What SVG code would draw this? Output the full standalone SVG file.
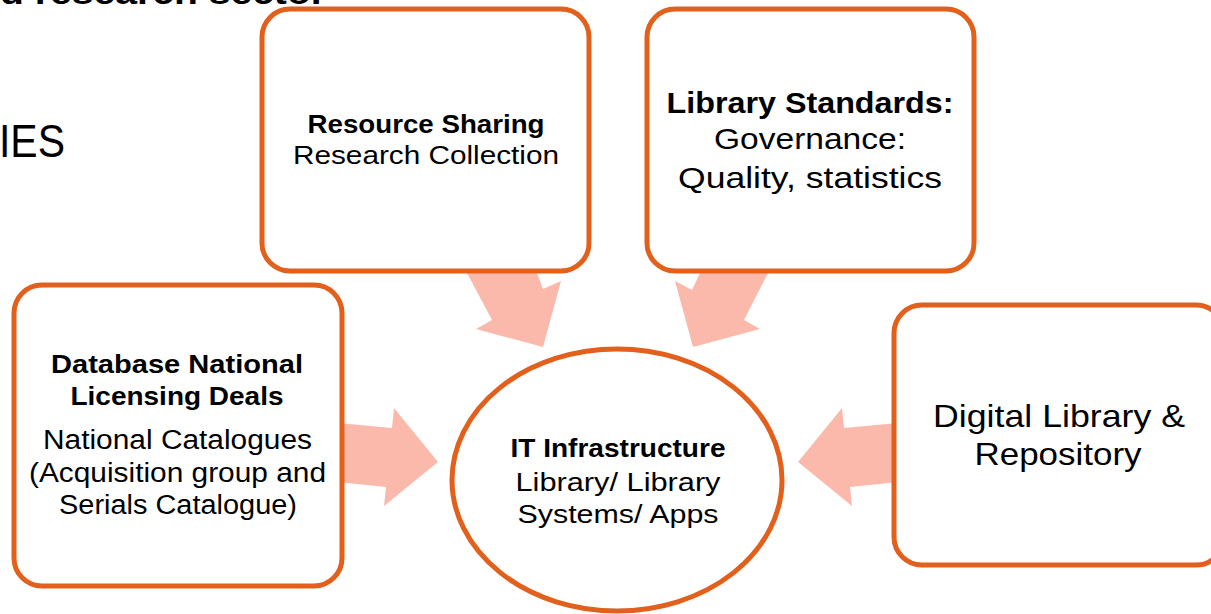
<svg xmlns="http://www.w3.org/2000/svg" width="1211" height="614" viewBox="0 0 1211 614">
<style>
.box{fill:#ffffff;stroke:#E2601B;stroke-width:5}
.arrow{fill:#FBB9AB;stroke:none}
text{font-family:"Liberation Sans",Arial,sans-serif;fill:#000000;text-anchor:middle}
.b{font-weight:bold}
.e{text-anchor:end}
</style>
<rect width="1211" height="614" fill="#ffffff"/>
<g id="page-titles">
<text class="b e" x="326" y="4" font-size="34" textLength="326" lengthAdjust="spacingAndGlyphs">d research sector</text>
<text class="e" x="65" y="157" font-size="46" textLength="66" lengthAdjust="spacingAndGlyphs">IES</text>
</g>
<g id="connectors">
<polygon class="arrow" points="467,273 537,273 543,289 561,281 543,347 476,329 492,320"/>
<polygon class="arrow" points="700,273 768,273 744,320 760,329 693,347 675,281 692,290"/>
<polygon class="arrow" points="338,423 392,428 394,408 438,462 384,506 386,487 338,482"/>
<polygon class="arrow" points="898,423 844,428 842,408 798,462 852,506 850,487 898,482"/>
</g>
<g id="node-resource-sharing">
<rect class="box" x="262" y="9" width="327" height="262" rx="28"/>
<text class="b" x="426" y="133" font-size="25" textLength="237" lengthAdjust="spacingAndGlyphs">Resource Sharing</text>
<text x="426" y="164" font-size="25" textLength="266" lengthAdjust="spacingAndGlyphs">Research Collection</text>
</g>
<g id="node-library-standards">
<rect class="box" x="647" y="9" width="327" height="262" rx="28"/>
<text class="b" x="810" y="113" font-size="29" textLength="287" lengthAdjust="spacingAndGlyphs">Library Standards:</text>
<text x="810" y="149" font-size="29" textLength="192" lengthAdjust="spacingAndGlyphs">Governance:</text>
<text x="810" y="188" font-size="29" textLength="264" lengthAdjust="spacingAndGlyphs">Quality, statistics</text>
</g>
<g id="node-database">
<rect class="box" x="14" y="285" width="328" height="301" rx="28"/>
<text class="b" x="177" y="373" font-size="26" textLength="252" lengthAdjust="spacingAndGlyphs">Database National</text>
<text class="b" x="177" y="405" font-size="26" textLength="213" lengthAdjust="spacingAndGlyphs">Licensing Deals</text>
<text x="177.5" y="449" font-size="27" textLength="269" lengthAdjust="spacingAndGlyphs">National Catalogues</text>
<text x="177.5" y="482" font-size="27" textLength="297" lengthAdjust="spacingAndGlyphs">(Acquisition group and</text>
<text x="178" y="514" font-size="27" textLength="238" lengthAdjust="spacingAndGlyphs">Serials Catalogue)</text>
</g>
<g id="node-digital-library">
<rect class="box" x="894" y="305" width="330" height="260" rx="28"/>
<text x="1059" y="427" font-size="32" textLength="252" lengthAdjust="spacingAndGlyphs">Digital Library &amp;</text>
<text x="1058" y="465" font-size="32" textLength="167" lengthAdjust="spacingAndGlyphs">Repository</text>
</g>
<g id="node-it-infrastructure">
<ellipse class="box" cx="617" cy="480" rx="165" ry="131"/>
<text class="b" x="618" y="457" font-size="26" textLength="215" lengthAdjust="spacingAndGlyphs">IT Infrastructure</text>
<text x="618" y="491" font-size="26" textLength="205" lengthAdjust="spacingAndGlyphs">Library/ Library</text>
<text x="618" y="523" font-size="26" textLength="201" lengthAdjust="spacingAndGlyphs">Systems/ Apps</text>
</g>
</svg>
